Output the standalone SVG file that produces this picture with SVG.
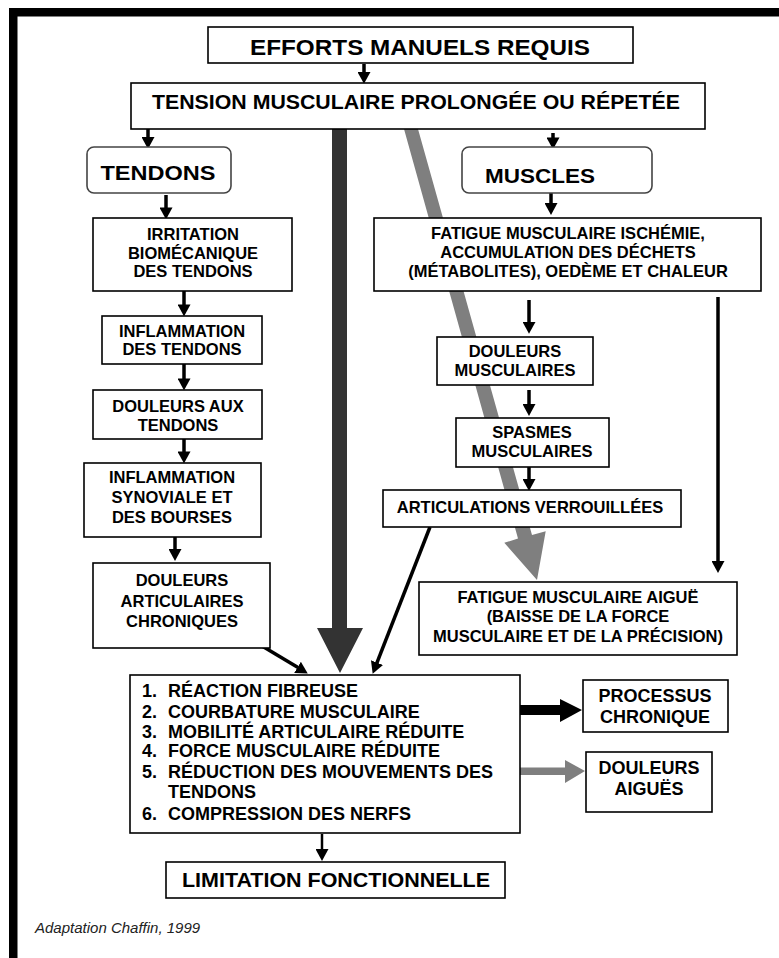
<svg xmlns="http://www.w3.org/2000/svg" width="779" height="958" viewBox="0 0 779 958">
<style>
.box{fill:#fff;stroke:#000;stroke-width:1.6}
.rbox{fill:#fff;stroke:#444;stroke-width:1.6}
text{font-family:"Liberation Sans",Arial,sans-serif;font-weight:bold;fill:#000}
.b{font-size:16.5px;text-anchor:middle}
.l{font-size:18px}
.c{font-size:18px;text-anchor:middle}
.ar{fill:none;stroke:#000;stroke-width:3.5;marker-end:url(#ah)}
</style>
<defs>
<marker id="ah" markerUnits="userSpaceOnUse" markerWidth="12" markerHeight="13" viewBox="0 0 11 12" refX="0.5" refY="6" orient="auto"><path d="M0,0 L11,6 L0,12 z" fill="#000"/></marker>
</defs>
<rect width="779" height="958" fill="#fff"/>
<g id="frame">
<rect x="9" y="8" width="770" height="8.5" fill="#000"/>
<rect x="9" y="8" width="8.5" height="950" fill="#000"/>
</g>
<g id="connectors">
<path d="M404,129 L418,129 L532,535 L545.7,531.2 L537,580 L504.3,542.8 L518,538.5 Z" fill="#7f7f7f"/>
<path d="M332,129 L347,129 L347,628 L363,628 L340,673 L317,628 L332,628 Z" fill="#333"/>
<line class="ar" x1="364" y1="64" x2="364" y2="72.5"/>
<line class="ar" x1="148" y1="129" x2="148" y2="137.5"/>
<line class="ar" x1="553" y1="133" x2="553" y2="138"/>
<line class="ar" x1="166" y1="195" x2="166" y2="208"/>
<line class="ar" x1="184" y1="291" x2="184" y2="305"/>
<line class="ar" x1="184" y1="364" x2="184" y2="379"/>
<line class="ar" x1="184" y1="439" x2="184" y2="452"/>
<line class="ar" x1="175" y1="537" x2="175" y2="549.5"/>
<line class="ar" x1="551" y1="193" x2="551" y2="203.5"/>
<line class="ar" x1="529" y1="300" x2="529" y2="322.5"/>
<line class="ar" x1="529" y1="390" x2="529" y2="404.5"/>
<line class="ar" x1="529" y1="467" x2="529" y2="479.5"/>
<line class="ar" x1="718" y1="297" x2="718" y2="561.5"/>
<line class="ar" x1="257" y1="643" x2="298" y2="667.6"/>
<line class="ar" x1="430" y1="527" x2="376.8" y2="663.2"/>
<line class="ar" style="stroke-width:2.5" x1="322" y1="834" x2="322" y2="849.5"/>
<path d="M519,705 L560,705 L560,699 L582,710 L560,722 L560,715 L519,715 Z" fill="#000"/>
<path d="M520,767.5 L565,767.5 L565,760 L585,771 L565,783 L565,775 L520,775 Z" fill="#7f7f7f"/>
</g>
<g id="n-efforts"><rect class="box" x="208" y="27" width="425" height="36"/><text x="420" y="55" font-size="22" text-anchor="middle" textLength="340" lengthAdjust="spacingAndGlyphs">EFFORTS MANUELS REQUIS</text></g>
<g id="n-tension"><rect class="box" x="131" y="83" width="574" height="46"/><text x="416" y="109" font-size="20" text-anchor="middle" textLength="528" lengthAdjust="spacingAndGlyphs">TENSION MUSCULAIRE PROLONGÉE OU RÉPETÉE</text></g>
<g id="n-tendons"><rect class="rbox" x="87" y="147" width="144" height="46" rx="7"/><text x="158" y="180" font-size="21" text-anchor="middle" textLength="115" lengthAdjust="spacingAndGlyphs">TENDONS</text></g>
<g id="n-muscles"><rect class="rbox" x="462" y="147" width="190" height="46" rx="7"/><text x="540" y="183" font-size="21" text-anchor="middle" textLength="110" lengthAdjust="spacingAndGlyphs">MUSCLES</text></g>
<g id="n-irritation"><rect class="box" x="93" y="218" width="199" height="73"/><text class="b" x="193" y="240">IRRITATION</text><text class="b" x="193" y="259">BIOMÉCANIQUE</text><text class="b" x="193" y="277">DES TENDONS</text></g>
<g id="n-inflam-tendons"><rect class="box" x="102" y="316" width="160" height="48"/><text class="b" x="182" y="337">INFLAMMATION</text><text class="b" x="182" y="355">DES TENDONS</text></g>
<g id="n-douleurs-tendons"><rect class="box" x="93" y="390" width="169" height="49"/><text class="b" x="178" y="412">DOULEURS AUX</text><text class="b" x="178" y="431">TENDONS</text></g>
<g id="n-inflam-synoviale"><rect class="box" x="84" y="463" width="177" height="74"/><text class="b" x="172" y="483">INFLAMMATION</text><text class="b" x="172" y="503">SYNOVIALE ET</text><text class="b" x="172" y="523">DES BOURSES</text></g>
<g id="n-douleurs-art"><rect class="box" x="93" y="563" width="177" height="85"/><text class="b" x="182" y="586">DOULEURS</text><text class="b" x="182" y="607">ARTICULAIRES</text><text class="b" x="182" y="627">CHRONIQUES</text></g>
<g id="n-fatigue"><rect class="box" x="374" y="218" width="387" height="73"/><text class="b" x="568" y="239">FATIGUE MUSCULAIRE ISCHÉMIE,</text><text class="b" x="568" y="258">ACCUMULATION DES DÉCHETS</text><text class="b" x="568" y="277">(MÉTABOLITES), OEDÈME ET CHALEUR</text></g>
<g id="n-douleurs-musc"><rect class="box" x="437" y="337" width="156" height="48"/><text class="b" x="515" y="357">DOULEURS</text><text class="b" x="515" y="376">MUSCULAIRES</text></g>
<g id="n-spasmes"><rect class="box" x="456" y="418" width="153" height="49"/><text class="b" x="532" y="438">SPASMES</text><text class="b" x="532" y="457">MUSCULAIRES</text></g>
<g id="n-articulations"><rect class="box" x="383" y="490" width="298" height="37"/><text class="b" x="530" y="513">ARTICULATIONS VERROUILLÉES</text></g>
<g id="n-fatigue-aigue"><rect class="box" x="419" y="582" width="318" height="73"/><text class="b" x="578" y="603">FATIGUE MUSCULAIRE AIGUË</text><text class="b" x="578" y="622">(BAISSE DE LA FORCE</text><text class="b" x="578" y="642">MUSCULAIRE ET DE LA PRÉCISION)</text></g>
<g id="n-effets"><rect class="box" x="130" y="675" width="390" height="158"/>
<text class="l" x="142" y="697">1.</text><text class="l" x="168" y="697">RÉACTION FIBREUSE</text>
<text class="l" x="142" y="718">2.</text><text class="l" x="168" y="718">COURBATURE MUSCULAIRE</text>
<text class="l" x="142" y="738">3.</text><text class="l" x="168" y="738">MOBILITÉ ARTICULAIRE RÉDUITE</text>
<text class="l" x="142" y="757">4.</text><text class="l" x="168" y="757">FORCE MUSCULAIRE RÉDUITE</text>
<text class="l" x="142" y="778">5.</text><text class="l" x="168" y="778">RÉDUCTION DES MOUVEMENTS DES</text>
<text class="l" x="168" y="798">TENDONS</text>
<text class="l" x="142" y="820">6.</text><text class="l" x="168" y="820">COMPRESSION DES NERFS</text></g>
<g id="n-processus"><rect class="box" x="583" y="680" width="145" height="52"/><text class="c" x="655" y="702">PROCESSUS</text><text class="c" x="655" y="723">CHRONIQUE</text></g>
<g id="n-douleurs-aigues"><rect class="box" x="586" y="752" width="126" height="60"/><text class="c" x="649" y="774">DOULEURS</text><text class="c" x="649" y="795">AIGUËS</text></g>
<g id="n-limitation"><rect class="box" x="166" y="862" width="339" height="36"/><text x="336" y="887" font-size="21" text-anchor="middle" textLength="308" lengthAdjust="spacingAndGlyphs">LIMITATION FONCTIONNELLE</text></g>
<text x="35" y="933" style="font-weight:normal;font-style:italic;font-size:15px;fill:#222">Adaptation Chaffin, 1999</text>
</svg>
